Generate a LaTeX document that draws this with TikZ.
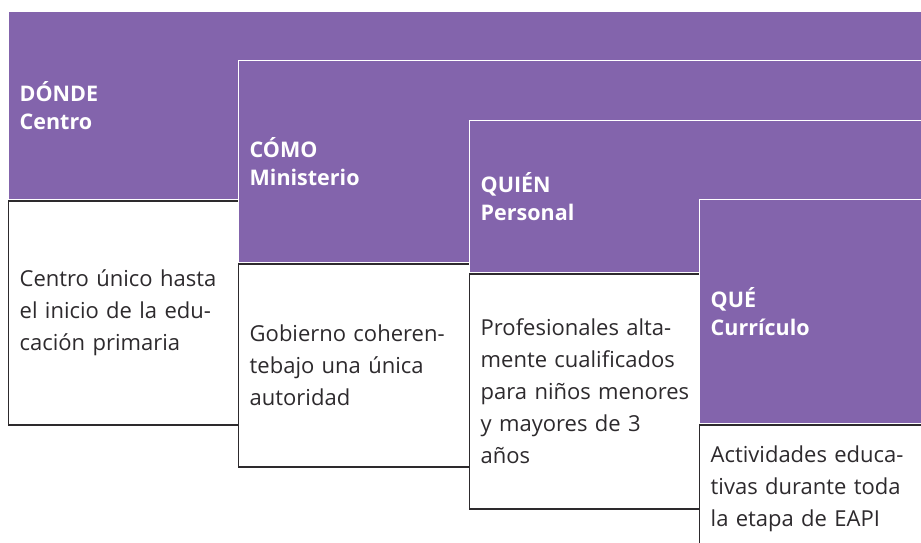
\documentclass[tikz,border=0pt]{standalone}
\usepackage{fontspec}
\setmainfont{Open Sans}
\definecolor{eapi}{RGB}{131,100,172}
\definecolor{ink}{RGB}{45,42,45}

\begin{document}
\begin{tikzpicture}[x=1pt,y=-1pt,
    head/.style={fill=eapi, draw=white, line width=1.4pt, anchor=north west,
        inner xsep=11pt, inner ysep=0pt, align=left, text=white,
        font=\fontsize{21.5}{28}\selectfont\bfseries},
    body/.style={fill=white, draw=ink, line width=1.4pt, anchor=north west,
        inner xsep=11pt, inner ysep=0pt, align=left, text=ink,
        font=\fontsize{22}{32}\selectfont}]
\clip (0,0) rectangle (921,542);
\useasboundingbox (0,0) rectangle (921,542);

% donde
\node[head, minimum width=922pt, minimum height=188pt, text width=900pt] (dondeH) at (8,11)
    {DÓNDE\\Centro};
\node[body, minimum width=922pt, minimum height=224pt, text width=900pt] (dondeB) at (dondeH.south west)
    {Centro único hasta\\el inicio de la edu-\\cación primaria};

% como
\node[head, minimum width=692pt, minimum height=202pt, text width=670pt] (comoH) at (238,60)
    {CÓMO\\Ministerio};
\node[body, minimum width=692pt, minimum height=203pt, text width=670pt] (comoB) at (comoH.south west)
    {Gobierno coheren-\\tebajo una única\\autoridad};

% quien
\node[head, minimum width=461pt, minimum height=152pt, text width=439pt] (quienH) at (469,120)
    {QUIÉN\\Personal};
\node[body, minimum width=461pt, minimum height=235pt, text width=439pt] (quienB) at (quienH.south west)
    {Profesionales alta-\\mente cualificados\\para niños menores\\y mayores de 3\\años};

% que
\node[head, minimum width=231pt, minimum height=224pt, text width=209pt] (queH) at (699,199)
    {QUÉ\\Currículo};
\node[body, minimum width=231pt, minimum height=128pt, text width=209pt] (queB) at (queH.south west)
    {Actividades educa-\\tivas durante toda\\la etapa de EAPI};
\end{tikzpicture}
\end{document}
